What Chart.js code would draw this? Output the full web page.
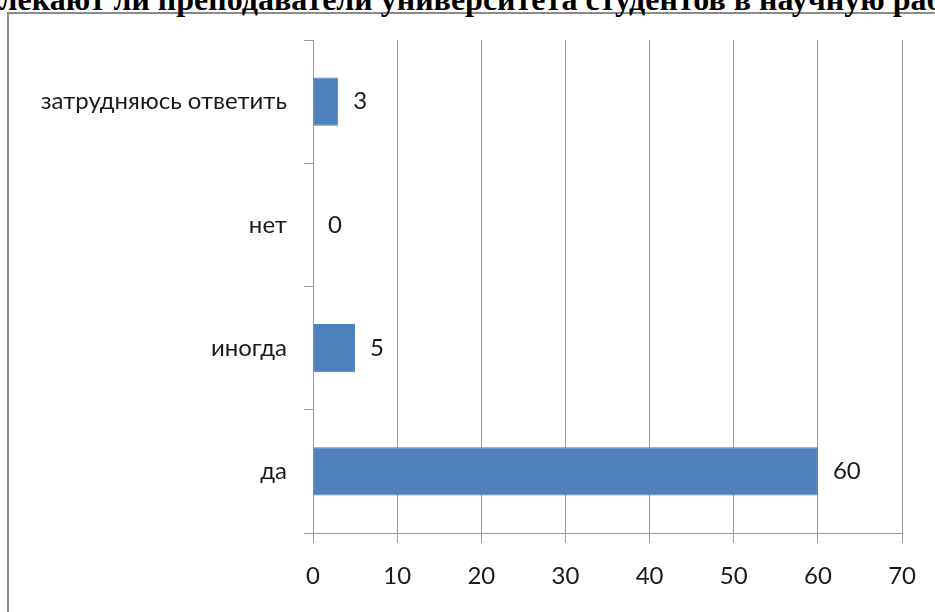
<!DOCTYPE html>
<html>
<head>
<meta charset="utf-8">
<script src="https://cdn.jsdelivr.net/npm/chart.js@4/dist/chart.umd.min.js"></script>
<style>
  html, body { margin:0; padding:0; width:935px; height:612px; overflow:hidden; background:#fff; }
  #frame { position:absolute; left:7px; top:12px; width:1200px; height:800px;
           border-left:2px solid #8a8a8a; border-top:2px solid #8a8a8a; }
  #title { position:absolute; top:-17px; left:0; white-space:nowrap;
           font-family:"Liberation Serif","Times New Roman",serif; font-weight:bold;
           font-size:32px; line-height:32px; color:#000; }
  #wrap { position:absolute; left:0; top:0; width:935px; height:612px; }
</style>
</head>
<body>
<div id="frame"></div>
<div id="title"></div>
<div id="wrap"><canvas id="c" width="935" height="612"></canvas></div>
<script>
const titlePrefix = "Прив";
const titleText = "Привлекают ли преподаватели университета студентов в научную работу?";
const categories = ["затрудняюсь ответить", "нет", "иногда", "да"];
const values = [3, 0, 5, 60];
const xTicks = [0, 10, 20, 30, 40, 50, 60, 70];

const titleEl = document.getElementById('title');
titleEl.textContent = titleText;
(function(){
  const m = document.createElement('canvas').getContext('2d');
  m.font = 'bold 32px "Liberation Serif"';
  titleEl.style.left = (-m.measureText(titlePrefix).width) + 'px';
})();

const labelFont = { family: 'Lato, "Open Sans", sans-serif', size: 24 };
const textColor = '#1a1a1a';
const gridColor = '#9a9a9a';

const valueLabels = {
  id: 'valueLabels',
  afterDatasetsDraw(chart) {
    const ctx = chart.ctx;
    const meta = chart.getDatasetMeta(0);
    ctx.save();
    ctx.font = labelFont.size + 'px ' + labelFont.family;
    ctx.fillStyle = textColor;
    ctx.textAlign = 'left';
    ctx.textBaseline = 'middle';
    meta.data.forEach((bar, i) => {
      ctx.fillText(String(values[i]), bar.x + 15, bar.y);
    });
    ctx.restore();
  }
};

new Chart(document.getElementById('c'), {
  type: 'bar',
  data: {
    labels: categories,
    datasets: [{
      data: values,
      backgroundColor: '#4f81bd',
      borderColor: '#4a7ebb',
      borderWidth: 1,
      categoryPercentage: 1,
      barPercentage: 0.39
    }]
  },
  options: {
    indexAxis: 'y',
    responsive: false,
    animation: false,
    layout: { padding: { left: 0, right: 31, top: 40, bottom: 0 } },
    plugins: { legend: { display: false }, tooltip: { enabled: false }, title: { display: false } },
    scales: {
      x: {
        min: 0, max: 70,
        afterBuildTicks(scale) { scale.ticks = xTicks.map(v => ({ value: v })); },
        afterFit(scale) { scale.height = 79; },
        grid: { color: gridColor, lineWidth: 1, tickLength: 10, drawTicks: true },
        border: { color: gridColor, width: 1 },
        ticks: { font: labelFont, color: textColor, padding: 19, maxRotation: 0 }
      },
      y: {
        afterFit(scale) { scale.width = 313; },
        grid: { drawOnChartArea: false, color: gridColor, tickLength: 9, offset: true },
        border: { color: gridColor, width: 1 },
        ticks: { font: labelFont, color: textColor, padding: 17 }
      }
    }
  },
  plugins: [valueLabels]
});
</script>
</body>
</html>
